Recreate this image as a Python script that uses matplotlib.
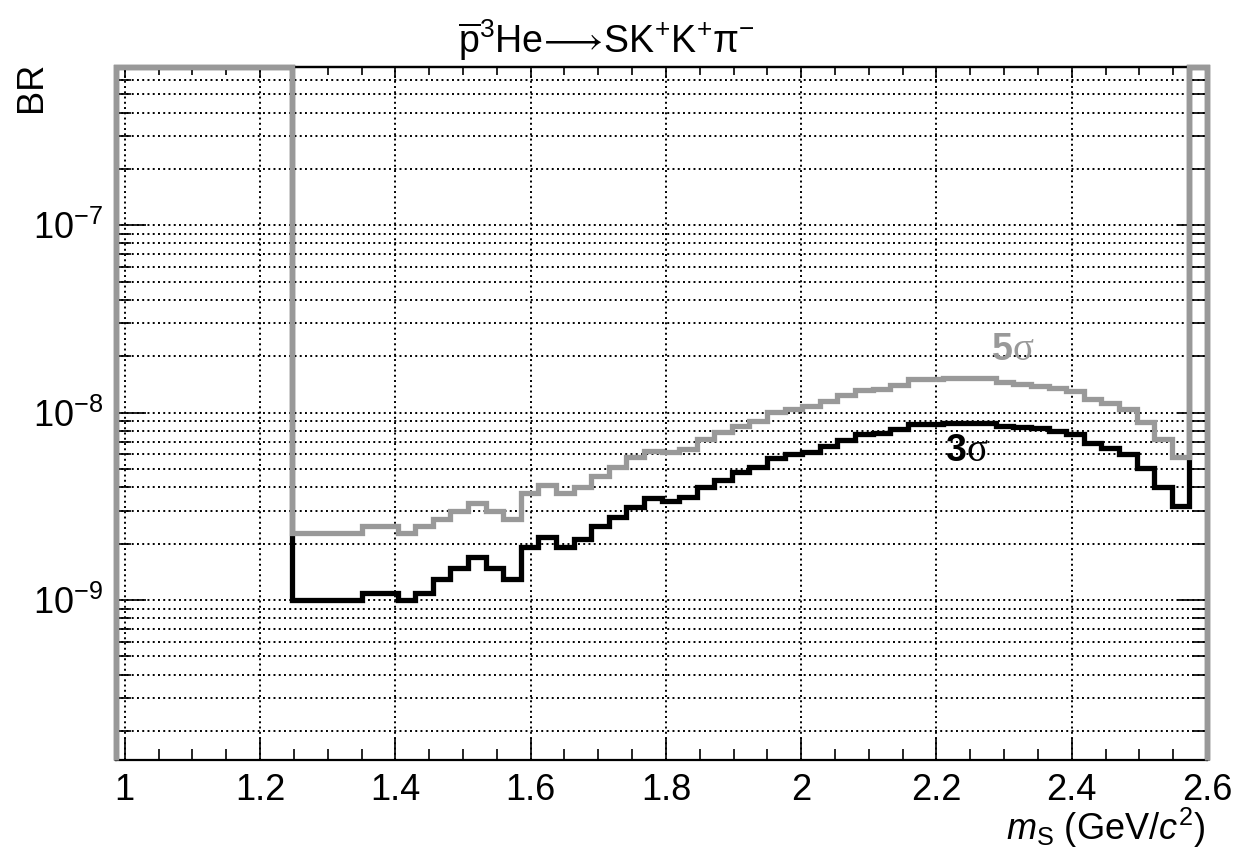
import numpy as np
import matplotlib
matplotlib.use('Agg')
import matplotlib.pyplot as plt
from matplotlib.ticker import (MultipleLocator, FixedLocator, NullFormatter,
                               LogFormatterMathtext)

plt.rcParams['font.family'] = ['Liberation Sans', 'DejaVu Sans']
plt.rcParams['mathtext.fontset'] = 'custom'
plt.rcParams['mathtext.rm'] = 'Liberation Sans'
plt.rcParams['mathtext.it'] = 'Liberation Sans:italic'
plt.rcParams['mathtext.bf'] = 'Liberation Sans:bold'
plt.rcParams['mathtext.fallback'] = 'stixsans'

# ---- binning of the histogram (62 bins) ----
X_LO, X_HI, N_BINS = 0.987, 2.6, 62
FIRST_BIN = 10            # first bin with a finite limit
Y_MIN, Y_MAX = 1.40e-10, 7.0e-7

# ---- upper limits on BR (bins 10..60) ----
br_3sigma = [1.00e-9, 1.00e-9, 1.00e-9, 1.00e-9, 1.09e-9, 1.09e-9, 1.00e-9, 1.09e-9,
             1.29e-9, 1.49e-9, 1.69e-9, 1.49e-9, 1.30e-9, 1.92e-9, 2.18e-9, 1.92e-9,
             2.11e-9, 2.48e-9, 2.78e-9, 3.15e-9, 3.49e-9, 3.39e-9, 3.56e-9, 3.99e-9,
             4.37e-9, 4.84e-9, 5.15e-9, 5.75e-9, 6.01e-9, 6.19e-9, 6.64e-9, 7.14e-9,
             7.69e-9, 7.76e-9, 8.15e-9, 8.70e-9, 8.70e-9, 8.78e-9, 8.84e-9, 8.78e-9,
             8.49e-9, 8.42e-9, 8.25e-9, 8.02e-9, 7.69e-9, 6.91e-9, 6.46e-9, 6.01e-9,
             5.05e-9, 4.02e-9, 3.18e-9]
br_5sigma = [2.29e-9, 2.29e-9, 2.29e-9, 2.29e-9, 2.48e-9, 2.48e-9, 2.29e-9, 2.48e-9,
             2.70e-9, 3.00e-9, 3.28e-9, 3.00e-9, 2.70e-9, 3.71e-9, 4.11e-9, 3.71e-9,
             3.99e-9, 4.59e-9, 5.15e-9, 5.78e-9, 6.27e-9, 6.19e-9, 6.37e-9, 7.21e-9,
             7.92e-9, 8.49e-9, 9.06e-9, 1.01e-8, 1.05e-8, 1.09e-8, 1.16e-8, 1.24e-8,
             1.32e-8, 1.33e-8, 1.41e-8, 1.51e-8, 1.51e-8, 1.53e-8, 1.54e-8, 1.53e-8,
             1.46e-8, 1.42e-8, 1.39e-8, 1.35e-8, 1.31e-8, 1.18e-8, 1.12e-8, 1.05e-8,
             8.95e-9, 7.21e-9, 5.82e-9]

y_major_ticks = [1e-9, 1e-8, 1e-7]
y_minor_ticks = [m * 10.0 ** e for e in (-10, -9, -8, -7) for m in range(2, 10)]

title = (r'$\overline{\mathrm{p}}^{3}\mathrm{He}\!\longrightarrow\!'
         r'\mathrm{SK}^{+}\mathrm{K}^{+}\mathrm{\pi}^{-}$')
xlabel = r'$m_{\mathrm{S}}$ (GeV/$c^{2}$)'
ylabel = 'BR'

edges = np.linspace(X_LO, X_HI, N_BINS + 1)


def full_hist(vals):
    h = np.full(N_BINS, np.inf)          # no sensitivity outside the kinematic range
    h[FIRST_BIN:FIRST_BIN + len(vals)] = vals
    return np.minimum(h, Y_MAX)          # drawn along the frame like ROOT does


W, H = 1238, 858
fig = plt.figure(figsize=(W / 100, H / 100), dpi=100)
ax = fig.add_axes([116 / W, 1 - 760 / H, (1207 - 116) / W, (760 - 67) / H])
ax.set_yscale('log')
ax.set_xlim(X_LO, X_HI)
ax.set_ylim(Y_MIN, Y_MAX)

# ticks
ax.xaxis.set_major_locator(MultipleLocator(0.2))
ax.xaxis.set_minor_locator(MultipleLocator(0.05))
ax.yaxis.set_major_locator(FixedLocator(y_major_ticks))
ax.yaxis.set_minor_locator(FixedLocator([t for t in y_minor_ticks if Y_MIN <= t <= Y_MAX]))
ax.yaxis.set_minor_formatter(NullFormatter())
ax.yaxis.set_major_formatter(LogFormatterMathtext())
ax.xaxis.set_major_formatter(matplotlib.ticker.FuncFormatter(lambda v, p: f'{v:g}'))

grid_ls = (0, (1, 1.7))
ax.set_axisbelow(True)
ax.grid(True, which='major', axis='x', color='k', lw=1.4, ls=grid_ls)
ax.grid(True, which='both', axis='y', color='k', lw=1.4, ls=grid_ls)

ax.stairs(full_hist(br_3sigma), edges, baseline=Y_MIN, color='black', lw=3.8,
          clip_on=False, zorder=3)
ax.stairs(full_hist(br_5sigma), edges, baseline=Y_MIN, color='#999999', lw=3.8,
          clip_on=False, zorder=4)

ax.tick_params(axis='x', which='major', direction='in', length=15.8, width=1.2,
               labelsize=26, pad=9, top=False)
ax.tick_params(axis='x', which='minor', direction='in', length=7.9, width=1.2, top=False)
ax.tick_params(axis='y', which='major', direction='in', length=21.6, width=1.2,
               labelsize=26, pad=9, right=True)
ax.tick_params(axis='y', which='minor', direction='in', length=10.8, width=1.2, right=True)

sec = ax.secondary_xaxis('top')
sec.xaxis.set_major_locator(MultipleLocator(0.2))
sec.xaxis.set_minor_locator(MultipleLocator(0.05))
sec.xaxis.set_major_formatter(NullFormatter())
sec.tick_params(axis='x', which='major', direction='in', length=8, width=1.2, labeltop=False)
sec.tick_params(axis='x', which='minor', direction='in', length=5.8, width=1.2)
sec.spines['top'].set_linewidth(1.6)

for s in ax.spines.values():
    s.set_linewidth(1.6)

# annotations
ax.text(2.312, 1.91e-8, '5', color='#999999', fontsize=27, fontweight='bold',
        ha='right', va='baseline', zorder=5)
ax.text(2.312, 1.91e-8, 'σ', color='#999999', fontsize=28, family='Liberation Serif',
        ha='left', va='baseline', zorder=5)
ax.text(2.244, 5.52e-9, '3', color='black', fontsize=27, fontweight='bold',
        ha='right', va='baseline', zorder=5)
ax.text(2.244, 5.52e-9, 'σ', color='black', fontsize=28, family='Liberation Serif',
        ha='left', va='baseline', zorder=5)

fig.text(606 / W, 1 - 53 / H, title, ha='center', va='baseline', fontsize=27)
fig.text(32 / W, 1 - 62 / H, ylabel, rotation=90, ha='center', va='top', fontsize=26)
fig.text(1205 / W, 1 - 840 / H, xlabel, ha='right', va='baseline', fontsize=26)

fig.savefig('out.png', dpi=100)
